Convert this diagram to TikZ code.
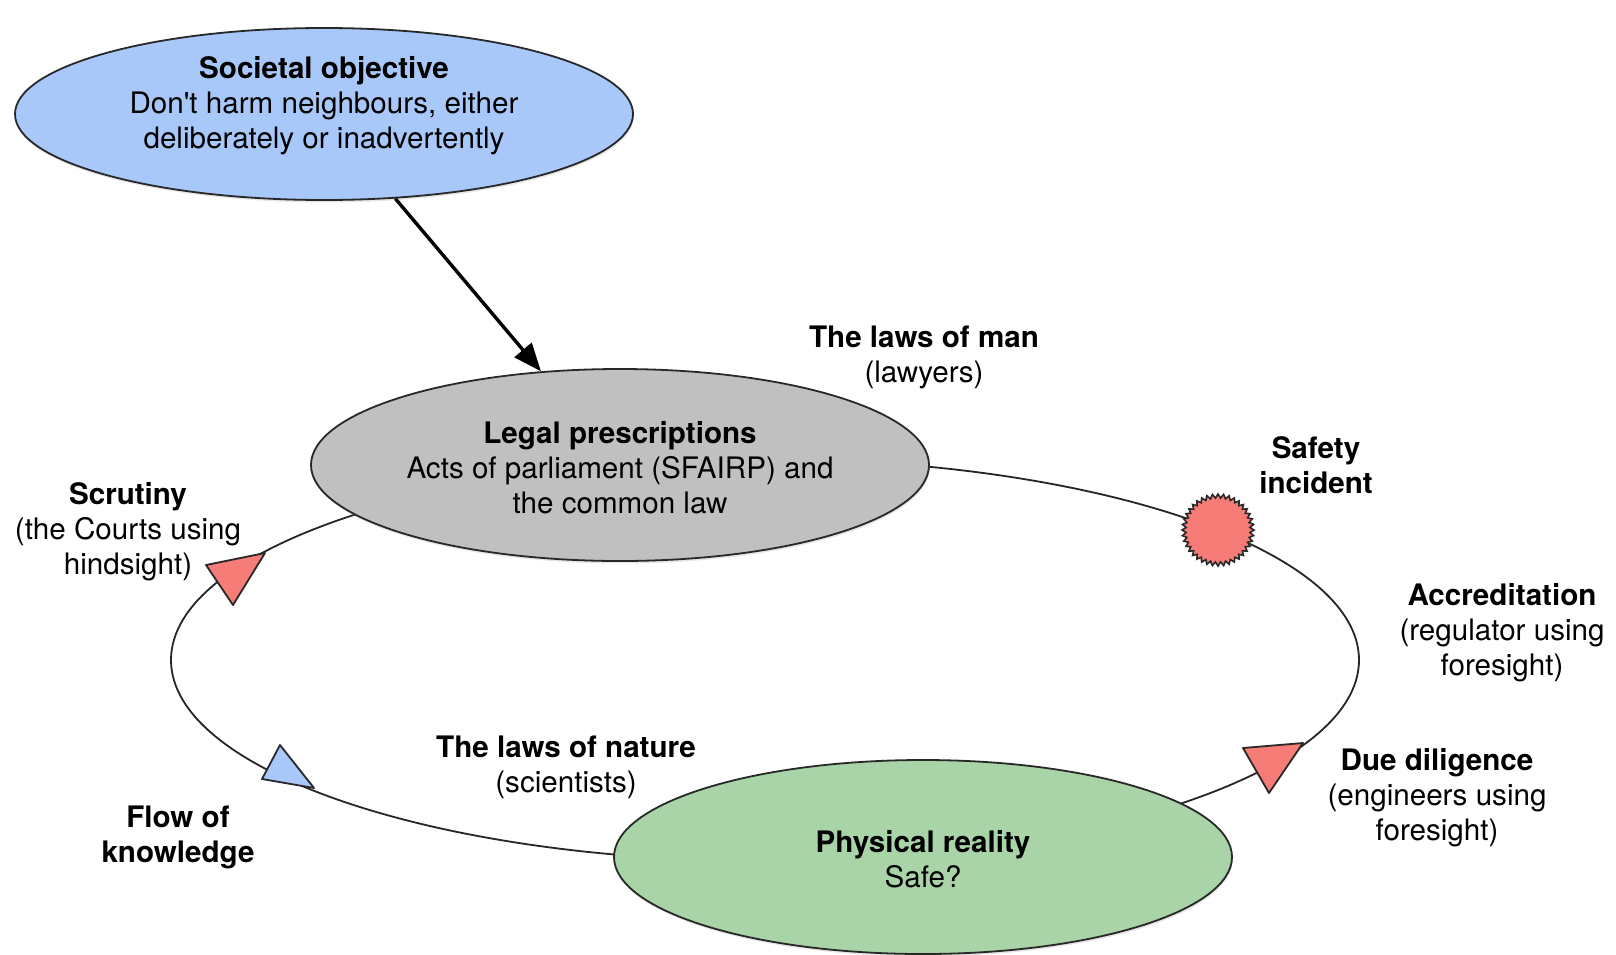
\documentclass[tikz,border=0pt]{standalone}
\usepackage{fontspec}
\setmainfont{TeX Gyre Heros}[Ligatures=TeXOff]
\usetikzlibrary{shapes.geometric,shapes.symbols,arrows.meta,shadows}
\definecolor{skyfill}{RGB}{168,200,250}
\definecolor{lawfill}{RGB}{192,192,192}
\definecolor{earthfill}{RGB}{168,212,168}
\definecolor{alertred}{RGB}{246,124,120}
\definecolor{edgegray}{RGB}{40,40,40}
\begin{document}
\begin{tikzpicture}[x=0.5pt,y=-0.5pt,
  bubble/.style={ellipse, draw=edgegray, line width=0.9pt, inner sep=0pt,
    drop shadow={shadow xshift=0.4pt, shadow yshift=-1.2pt, opacity=0.2}},
  caption/.style={align=center, inner sep=0pt,
    font=\fontsize{14.8}{17.5}\selectfont},
  loopline/.style={draw=black!85, line width=0.9pt},
  marker/.style={draw=edgegray, line width=0.9pt, line join=round}]
\useasboundingbox (0,0) rectangle (1616,954);
\fill[white] (0,0) rectangle (1616,954);

% the cycle linking law and reality
\draw[loopline] (765,660) ellipse [x radius=297pt, y radius=100.5pt];

% main ellipses
\node[bubble, fill=skyfill, minimum width=309pt, minimum height=86pt] (so) at (324,114) {};
\node[bubble, fill=lawfill, minimum width=309pt, minimum height=96pt] (lp) at (620,465) {};
\node[bubble, fill=earthfill, minimum width=309pt, minimum height=97pt] (pr) at (923,857) {};

\node[caption] (sotext) at (324,106) {\textbf{Societal objective}\\Don't harm neighbours, either\\deliberately or inadvertently};
\node[caption] (lptext) at (620,468) {\textbf{Legal prescriptions}\\Acts of parliament (SFAIRP) and\\the common law};
\node[caption] (prtext) at (923,859) {\textbf{Physical reality}\\Safe?};

% objective feeds the legal prescriptions
\draw[line width=1.7pt, -{Triangle[length=14pt, width=11pt]}] (so) -- (lp);

% markers on the cycle
\node[starburst, starburst points=40, starburst point height=2pt, random starburst=0,
  fill=alertred, draw=edgegray, line width=0.8pt, minimum size=36pt, inner sep=0pt] (inc) at (1218,530) {};
\filldraw[marker, fill=alertred] (206,565) -- (265,553) -- (233,605) -- cycle;
\filldraw[marker, fill=alertred] (1243,748) -- (1303,743) -- (1269,793) -- cycle;
\filldraw[marker, fill=skyfill] (280,745) -- (262,779) -- (314,788) -- cycle;

% annotations
\node[caption] (man) at (924,357) {\textbf{The laws of man}\\(lawyers)};
\node[caption] (incident) at (1316,465) {\textbf{Safety}\\\textbf{incident}};
\node[caption] (scrutiny) at (128,532) {\textbf{Scrutiny}\\(the Courts using\\hindsight)};
\node[caption] (accred) at (1502,633) {\textbf{Accreditation}\\(regulator using\\foresight)};
\node[caption] (nature) at (566,767) {\textbf{The laws of nature}\\(scientists)};
\node[caption] (diligence) at (1437,798) {\textbf{Due diligence}\\(engineers using\\foresight)};
\node[caption] (flow) at (178,837) {\textbf{Flow of}\\\textbf{knowledge}};
\end{tikzpicture}
\end{document}
